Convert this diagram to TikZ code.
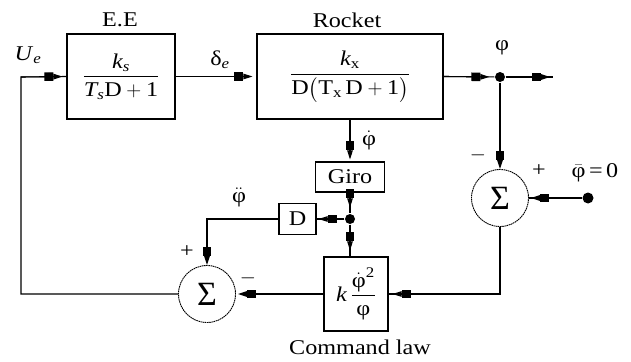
\documentclass[tikz,border=0pt]{standalone}
\usepackage{amsmath}
\usepackage{fontspec}
\setmainfont[FakeStretch=1.15]{Liberation Serif}
\newfontfamily\sigfont{Liberation Serif}
\usetikzlibrary{arrows.meta}
\tikzset{
  every node/.style={font=\fontsize{21}{25}\selectfont, inner sep=0pt},
  blk/.style 2 args={draw, minimum width=#1, minimum height=#2, inner sep=0pt},
  sumnode/.style={draw, circle, minimum size=57, dash pattern=on 1.6pt off 0.6pt, line width=0.9pt, font=\sigfont\fontsize{34}{34}\selectfont},
  arr/.style={-{Rectangle[length=9,width=8.5]Triangle[length=9,width=5.5]}},
  dot/.style={circle, fill, minimum size=#1, inner sep=0pt},
}
\begin{document}
\begin{tikzpicture}[x=1pt,y=-1pt,line width=1.1pt]
\useasboundingbox (0,0) rectangle (631,361);
% blocks
\node[blk={108}{85}] (ee) at (121,76.5) {$\dfrac{\textit{k}_{\textit{s}}}{\textit{T}_{\textit{s}}\text{D}+\text{1}}$};
\node[blk={186}{85}] (rk) at (350,76.5) {$\dfrac{\textit{k}_{\text{x}}}{\text{D}\bigl(\text{T}_{\text{x}}\,\text{D}+\text{1}\bigr)}$};
\node[blk={69}{30}] (gi) at (350,177) {Giro};
\node[blk={37}{31}] (db) at (297.5,219) {D};
\node[blk={64}{74}] (cl) at (356,294) {\textit{k}\,$\dfrac{\dot{\text{φ}}^{\text{2}}}{\text{φ}}$};
\node[sumnode] (sl) at (207,294) {Σ};
\node[sumnode] (sr) at (500,198) {Σ};
% dots and coordinates
\node[dot=10] (d1) at (500,77) {};
\node[dot=10] (d2) at (350,219) {};
\node[dot=11] (inp) at (588,198) {};
\coordinate (lc) at (21,77);
\coordinate (out) at (553,77);
% labels
\node (lee) at (120,20) {E.E};
\node (lrk) at (347,20) {Rocket};
\node (lue) at (28,55) {\textit{U}\textsubscript{\textit{e}}};
\node (lde) at (220,60) {δ\textsubscript{\textit{e}}};
\node (lph) at (502,48) {φ};
\node (lpd) at (369,140) {$\dot{\text{φ}}$};
\node (lpdd) at (239,197) {$\ddot{\text{φ}}$};
\node (lp1) at (187,252) {+};
\node (lm1) at (248,278) {$-$};
\node (lm2) at (478,155) {$-$};
\node (lp2) at (539,171) {+};
\node (lpb) at (595,173) {$\bar{\text{φ}}$\,=\,0};
\node (lcl) at (360,347) {Command law};
% connectors
\draw (sl.west) -| (lc) -- (ee.west);
\draw[arr,shorten >=4] (lc) -- (ee.west);
\draw[arr,shorten >=4] (ee.east) -- (rk.west);
\draw (rk.east) -- (d1);
\draw[arr,shorten >=5] (rk.east) -- (d1);
\draw[arr,shorten >=3] (d1) -- (out);
\draw (d1) -- (out);
\draw[arr] (d1) -- (sr.north);
\draw (inp) -- (sr.east);
\draw[arr,shorten >=2] (inp) -- (sr.east);
\draw (sr.south) |- (cl.east);
\draw[arr,shorten >=4] ([xshift=30]cl.east) -- (cl.east);
\draw[arr,shorten >=2] (cl.west) -- (sl.east);
\draw[arr,shorten >=2] (rk.south) -- (gi.north);
\draw (gi.south) -- (d2);
\draw[arr,shorten >=6] (gi.south) -- (d2);
\draw (d2) -- (d2 |- cl.north);
\draw[arr,shorten >=6] (d2) -- (d2 |- cl.north);
\draw (d2) -- (db.east);
\draw[arr,shorten >=2] (d2) -- (db.east);
\draw[arr] (db.west) -| (sl.north);
\end{tikzpicture}
\end{document}
